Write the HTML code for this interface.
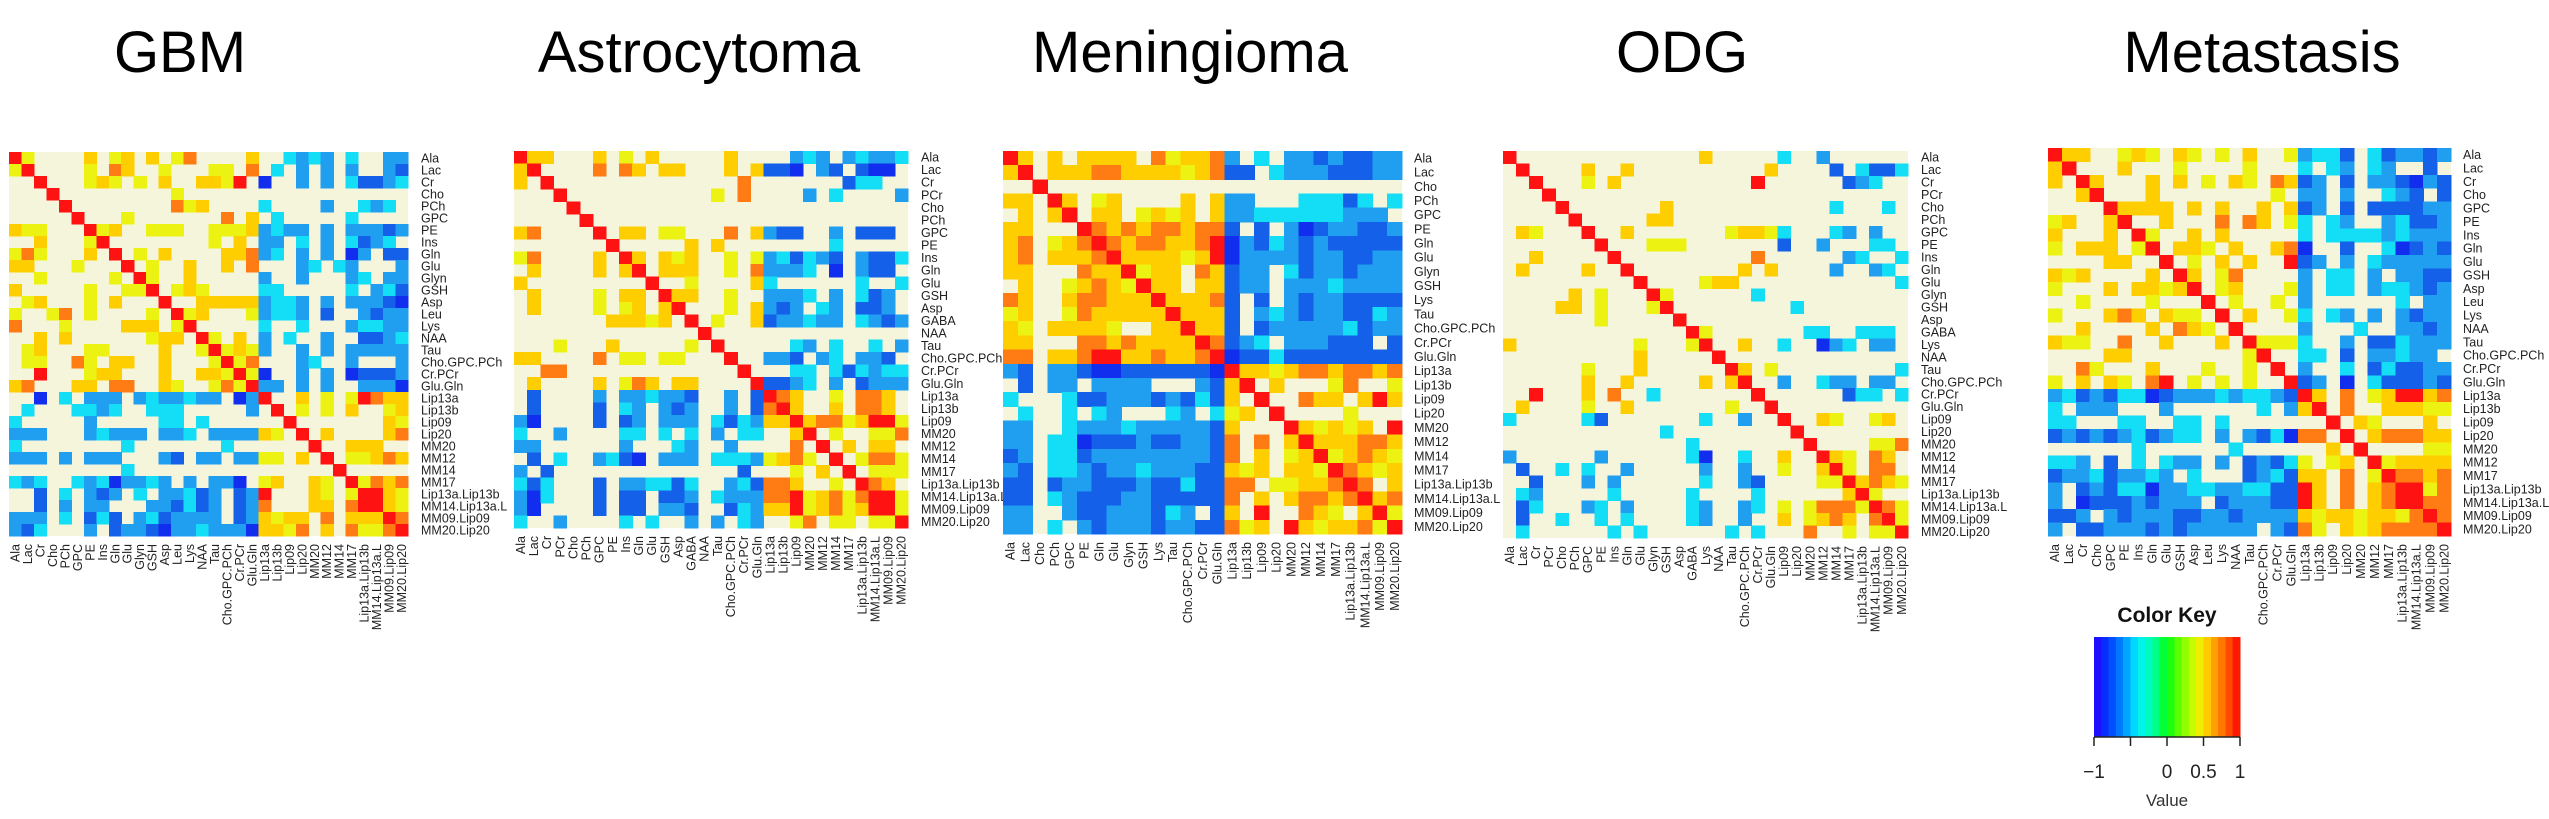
<!DOCTYPE html>
<html><head><meta charset="utf-8"><style>
html,body{margin:0;padding:0;background:#fff;width:2549px;height:819px;overflow:hidden}
svg{display:block}
text{font-family:"Liberation Sans",Arial,sans-serif}
</style></head><body>
<svg id="chart" xmlns="http://www.w3.org/2000/svg" width="2549" height="819" viewBox="0 0 2549 819">
<rect x="0" y="0" width="2549" height="819" fill="#fff"/>
</svg>
<script>
// ---- data: labels per panel ----
const gbmLabels = ["Ala","Lac","Cr","Cho","PCh","GPC","PE","Ins","Gln","Glu","Glyn","GSH","Asp","Leu","Lys","NAA","Tau","Cho.GPC.PCh","Cr.PCr","Glu.Gln","Lip13a","Lip13b","Lip09","Lip20","MM20","MM12","MM14","MM17","Lip13a.Lip13b","MM14.Lip13a.L","MM09.Lip09","MM20.Lip20"];
const astroLabels = ["Ala","Lac","Cr","PCr","Cho","PCh","GPC","PE","Ins","Gln","Glu","GSH","Asp","GABA","NAA","Tau","Cho.GPC.PCh","Cr.PCr","Glu.Gln","Lip13a","Lip13b","Lip09","MM20","MM12","MM14","MM17","Lip13a.Lip13b","MM14.Lip13a.L","MM09.Lip09","MM20.Lip20"];
const menLabels = ["Ala","Lac","Cho","PCh","GPC","PE","Gln","Glu","Glyn","GSH","Lys","Tau","Cho.GPC.PCh","Cr.PCr","Glu.Gln","Lip13a","Lip13b","Lip09","Lip20","MM20","MM12","MM14","MM17","Lip13a.Lip13b","MM14.Lip13a.L","MM09.Lip09","MM20.Lip20"];
const odgLabels = ["Ala","Lac","Cr","PCr","Cho","PCh","GPC","PE","Ins","Gln","Glu","Glyn","GSH","Asp","GABA","Lys","NAA","Tau","Cho.GPC.PCh","Cr.PCr","Glu.Gln","Lip09","Lip20","MM20","MM12","MM14","MM17","Lip13a.Lip13b","MM14.Lip13a.L","MM09.Lip09","MM20.Lip20"];
const metLabels = ["Ala","Lac","Cr","Cho","GPC","PE","Ins","Gln","Glu","GSH","Asp","Leu","Lys","NAA","Tau","Cho.GPC.PCh","Cr.PCr","Glu.Gln","Lip13a","Lip13b","Lip09","Lip20","MM20","MM12","MM17","Lip13a.Lip13b","MM14.Lip13a.L","MM09.Lip09","MM20.Lip20"];

// ---- data: lower-triangle correlation codes (symmetric matrices) ----
// D=-0.95 B=-0.8 L=-0.65 C=-0.45 .=not significant Y=0.45 A=0.6 O=0.8 R=1
const codeKeys = ["D","B","L","C","Y","A","O","R"];
const codeVals = [-0.95,-0.8,-0.65,-0.45,0.45,0.6,0.8,1];

const gbmLower = ["","Y","..","...","....",".....","AYY...","..A...Y","YOY...A.","AA...Y...","..Y.....Y.","A.....Y..YY",".YA...Y.A...","Y..YO.Y....Y.","O...Y....AAA.Y","..A.A......YAA.",".YA...YY....A..Y",".YY..OY.AA..A...Y","..R...YAA...A..AAY","AO...AA.OO..AY..YOY","..D.C.LLL.LCLLCLL.DL",".C...CCLC..CCC.....L.","C.....L.....CC.C......","LLL...LCLLL.LLC.LLLLAY.","C........C.......C......","LLL.L.LLL...LB.LL.LLYY.A.",".........C................","CLC..CLCDLLCL.L.LLD.YA..AY.","..B.C.LBL.C.LLCBL.BLR...AY.Y","..B.L.LL...LLBCBL.BLO...AA.OR","LLL.C.BCB.LCBLLLL.BLAYAA.O.AAA","LBC...L.BLLBDLLCLLLDAAYO.A.OYYO"];
const astroLower = ["","A","A.","...","....",".....","AO....",".......","YO....A.",".A....A.A","A.........",".A....Y.AA.",".A....Y.YA.A",".......AAAYA.","..............","...Y...A.....Y.","AA....O.YY.YY...","..OO.............",".A....A.YOA.AA....",".B....L.LLCLLB..L.B",".B....B.CL.LBL..L.BO","LD....B.BL.LLL.CBCLAA","C..L....CC.C.C.L.CC..A","LL......L...CL..L....O.",".B.C..LCBD.LLL.CCCLYAOY.","L.B..............B...Y.A.","CBC...B.LLCCBC..LCBOOA..Y.","LDC...B.BB.BBL.CLLLOORYAOYO","LD....B.BB.LLB..BCLAARYAOYAR","C..L....C.C..L.L.CL..YO.YY.YY"];
const menLower = ["","A","..","AA.",".A.A","AA...","AO.YAO","AO.AAAO","AA...OAA",".A..YAOAY","OA..AOOAAA","YA..YOAAAAA","AY.AAAAY..AA","AA...OOAOAAAA","OO.AAORRAAOAAO","LB.LLBDDBBBBBBD",".B.LL.LLLL...LBA","C...CBBLLLBLBCBA.",".C..C.CL...CL.CYA.","LL..CLLLCLLLLLBA...","LL.CCDBBBLBBLLBO.O.A","BL.CCBLLLLLLLLBO.A.YA","LB.CCLBLLCLLLBBAYA.AAY","BB.BLLBBBLBBCBBOO.YYAAO","BB.CLBBBLLBBBBBO.A.AOOAO","LL..LBBLLLBCL.BA.R..OAY.A","LL.C.LBLLLBLLBBOYA.RAYAAOY"];
const odgLower = ["",".","..","...","....",".....",".AY...",".......","..A.....",".A....A..","..........",".....A.Y...","....AA.Y...Y",".......Y.....","..............","A.........Y...Y","..........A.....","......Y...A......","......A..A.....A.A","..R...A.O..C.......",".A....Y..A.......Y..","C.....CB.......C..L..","............C.........","..............C........","L......L......CD..C..A..",".B..C.C..L.....L..L..Y..A","..B...L.L......C..LB....YY",".CL.....C.....C....C......A",".BC...LC.L....CL..LC.Y.YOOOY",".B..C..C.C....CL..L..A.YAOA.O",".C......C.C......C.C...O..Y.YY"];
const metLower = ["","A","A.","..A","....","YA..A","A...A.","Y.AAA.Y","....AA..","AYA....A.","Y...A.AAYA","..Y....Y...","Y...AOA.AYY.","..A....A.OAY.","AYY..O..A...A.","....AA........Y","..OY...A...Y..Y.","Y.A.AY.OR.Y.Y.Y..","LCBLBCCDBLLLCLCCLB","C.LLL...L......C.LA","CC...CC..CC.C.......","BLBLBLCBLCC.L.LBCDOO.","......C......C......A.","CCL.B.C.CLL.L.BLBCY.YA.","BLLCBLLCL.C...BLCBAA.O.Y","L.BLBCCDLLCCLLCCBBRA.O.AO","L.DBBBLBLLL.BLLLBBRA.O.AOR","BBL.LBLLLBBLLBLLLLAYAAYAAYO","L.BBLLLBLBLLLLL.LBOY.AYAOOOO"];

// ---- color key data ----
const keyTicks = [-1,-0.5,0,0.5,1];
const keyTickLabels = ["\u22121","","0","0.5","1"];

const NS = "http://www.w3.org/2000/svg";
const svg = document.getElementById("chart");
function mk(tag, attrs, parent){const e=document.createElementNS(NS,tag);for(const k in attrs)e.setAttribute(k,attrs[k]);(parent||svg).appendChild(e);return e;}

const cellStops = [[-1,[16,28,240]],[-0.8,[20,96,232]],[-0.65,[32,158,240]],[-0.45,[20,222,246]],[0,[0,255,80]],[0.45,[236,242,18]],[0.6,[255,206,0]],[0.8,[255,124,20]],[1,[255,18,18]]];
function interp(stops,v){
  if(v<=stops[0][0])return stops[0][1];
  for(let i=1;i<stops.length;i++){if(v<=stops[i][0]){const a=stops[i-1],b=stops[i];const t=(v-a[0])/(b[0]-a[0]);return a[1].map((c,k)=>Math.round(c+(b[1][k]-c)*t));}}
  return stops[stops.length-1][1];
}
function rgb(c){return "rgb("+c.join(",")+")";}
function decode(ch){const i=codeKeys.indexOf(ch);return i<0?null:codeVals[i];}

function buildMatrix(lower,n){
  const M=[];for(let i=0;i<n;i++){M.push(new Array(n).fill(null));}
  for(let i=0;i<n;i++){M[i][i]=1;const row=lower[i]||"";for(let j=0;j<i;j++){const v=decode(row[j]||".");M[i][j]=v;M[j][i]=v;}}
  return M;
}

function drawPanel(name,title,titleX,labels,lower,x0,y0,w,h,labelX){
  const g=mk("g",{});
  
  
  const t=mk("text",{x:titleX,y:72,"font-size":"58","text-anchor":"middle",fill:"#000"},g);
  
  
  t.textContent=title;
  const n=labels.length;const M=buildMatrix(lower,n);
  const cw=w/n,ch=h/n;
  const xs=j=>x0+j*cw, ys=i=>y0+i*ch;
  const bg=mk("rect",{x:x0,y:y0,width:w,height:h,fill:"#f5f5dc"},g);
  
  
  for(let i=0;i<n;i++)for(let j=0;j<n;j++){
    const v=M[i][j]; if(v===null)continue;
    const r=mk("rect",{x:xs(j).toFixed(2),y:ys(i).toFixed(2),width:(cw+0.6).toFixed(2),height:(ch+0.6).toFixed(2),fill:rgb(interp(cellStops,v)),"shape-rendering":"crispEdges"},g);
    
    
  }
  for(let i=0;i<n;i++){
    const tl=mk("text",{x:labelX,y:(ys(i)+ch/2+4.3).toFixed(2),"font-size":"12.5",fill:"#222"},g);
    
    
    tl.textContent=labels[i];
    const cx=xs(i)+cw/2, cy=y0+h+8;
    const tc=mk("text",{x:cx.toFixed(2),y:cy.toFixed(2),"font-size":"12.5",fill:"#222","text-anchor":"end",transform:"rotate(-90 "+cx.toFixed(2)+" "+cy.toFixed(2)+")",dy:"4.3"},g);
    
    
    tc.textContent=labels[i];
  }
}

drawPanel("gbm","GBM",180,gbmLabels,gbmLower,9,152,399,384,421);
drawPanel("astrocytoma","Astrocytoma",699,astroLabels,astroLower,514,151,394,377,921);
drawPanel("meningioma","Meningioma",1190,menLabels,menLower,1003,151,399,383,1414);
drawPanel("odg","ODG",1682,odgLabels,odgLower,1503,151,405,387,1921);
drawPanel("metastasis","Metastasis",2262,metLabels,metLower,2048,148,403,388,2463);

// ---- color key ----
const keyStops=[[-1,[40,0,255]],[-0.8,[0,60,255]],[-0.6,[0,140,255]],[-0.4,[0,240,255]],[-0.2,[0,255,170]],[0,[0,255,20]],[0.2,[120,255,0]],[0.4,[225,250,0]],[0.5,[255,225,0]],[0.6,[255,180,0]],[0.8,[255,100,0]],[1,[255,0,0]]];
const kg=mk("g",{});


const kx0=2094,kx1=2240,ky0=637,ky1=737;
const kx=v=>kx0+(v+1)/2*(kx1-kx0);
const nb=20;
for(let b=0;b<nb;b++){
  const v0=-1+b*2/nb, v1=v0+2/nb;
  const r=mk("rect",{x:kx(v0).toFixed(2),y:ky0,width:(kx(v1)-kx(v0)+0.5).toFixed(2),height:ky1-ky0,fill:rgb(interp(keyStops,(v0+v1)/2)),"shape-rendering":"crispEdges"},kg);
  
  
}
const kt=mk("text",{x:2167,y:622,"font-size":"21","font-weight":"bold","text-anchor":"middle",fill:"#111"},kg);


kt.textContent="Color Key";
mk("line",{x1:kx0,y1:ky1,x2:kx1,y2:ky1,stroke:"#222","stroke-width":"1.5"},kg);
keyTicks.forEach((v,i)=>{
  mk("line",{x1:kx(v),y1:ky1,x2:kx(v),y2:ky1+9,stroke:"#222","stroke-width":"1.5"},kg);
  if(keyTickLabels[i]){
    const tl=mk("text",{x:kx(v),y:778,"font-size":"19","text-anchor":"middle",fill:"#222"},kg);
    
    
    tl.textContent=keyTickLabels[i];
  }
});
const kv=mk("text",{x:2167,y:806,"font-size":"17","text-anchor":"middle",fill:"#333"},kg);


kv.textContent="Value";
</script>
</body></html>
